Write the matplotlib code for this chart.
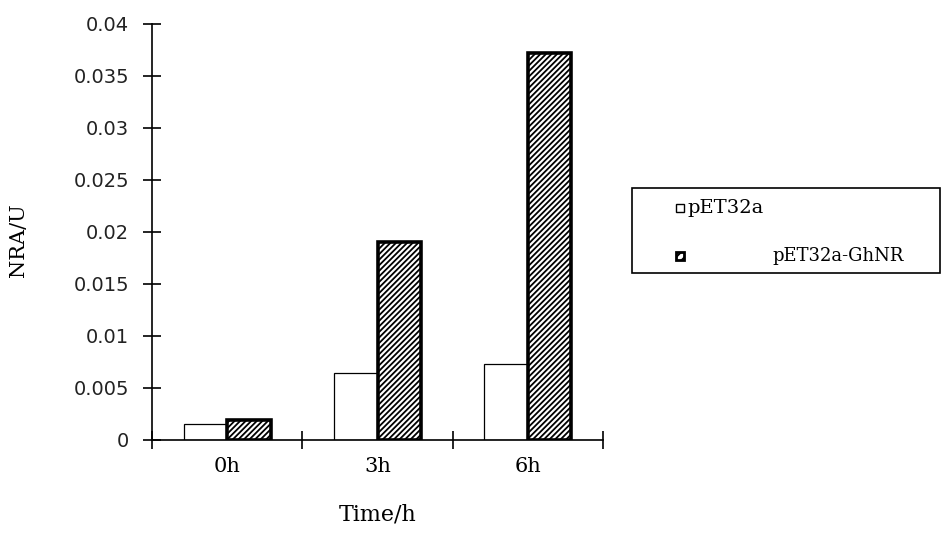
import numpy as np
import matplotlib
matplotlib.use("Agg")
import matplotlib.pyplot as plt
from matplotlib.patches import Rectangle

# 데이터
times = ["0h", "3h", "6h"]
pet32a = [0.0015, 0.0064, 0.0073]
pet32a_ghnr = [0.0019, 0.019, 0.0372]
y_ticks = [0, 0.005, 0.01, 0.015, 0.02, 0.025, 0.03, 0.035, 0.04]
y_tick_labels = ["0", "0.005", "0.01", "0.015", "0.02", "0.025", "0.03", "0.035", "0.04"]

plt.rcParams['font.family'] = ['DejaVu Serif']
plt.rcParams['hatch.linewidth'] = 1.3

fig = plt.figure(figsize=(9.43, 5.41), dpi=100)
ax = fig.add_axes([0.1612, 0.1867, 0.4783, 0.769])

x = np.arange(len(times))
w = 0.29
ax.bar(x - w / 2, pet32a, w, color="white", edgecolor="black", linewidth=0.9)
ax.bar(x + w / 2, pet32a_ghnr, w, color="white", edgecolor="black",
       linewidth=2.6, hatch="//////")

ax.set_xlim(-0.5, 2.5)
ax.set_ylim(0, 0.04)
ax.spines['top'].set_visible(False)
ax.spines['right'].set_visible(False)
ax.spines['left'].set_linewidth(1.2)
ax.spines['bottom'].set_linewidth(1.2)

ax.set_yticks(y_ticks)
ax.set_yticklabels(y_tick_labels, fontsize=14, family='DejaVu Sans',
                   color='#222222')
ax.tick_params(axis='y', direction='inout', length=13, width=1.2, pad=10)

# x축: 눈금은 구간 경계, 라벨은 가운데
ax.set_xticks([-0.5, 0.5, 1.5, 2.5])
ax.set_xticklabels([])
ax.set_xticks(x, minor=True)
ax.set_xticklabels(times, minor=True, fontsize=15)
ax.tick_params(axis='x', which='major', direction='inout', length=13, width=1.2)
ax.tick_params(axis='x', which='minor', length=0, pad=12)

ax.set_ylabel("NRA/U", fontsize=15)
ax.yaxis.set_label_coords(-0.275, 0.48)
ax.set_xlabel("Time/h", fontsize=16, labelpad=20)

# 범례 (수동)
fig.add_artist(Rectangle((632 / 943, 1 - 273 / 541), 308 / 943, 85 / 541,
                         transform=fig.transFigure, facecolor="white",
                         edgecolor="black", linewidth=1.2))
fig.add_artist(Rectangle((676 / 943, 1 - 212 / 541), 8 / 943, 8 / 541,
                         transform=fig.transFigure, facecolor="white",
                         edgecolor="black", linewidth=1.0))
fig.add_artist(Rectangle((676 / 943, 1 - 260 / 541), 8 / 943, 8 / 541,
                         transform=fig.transFigure, facecolor="white",
                         edgecolor="black", linewidth=2.0, hatch="////"))
fig.text(687 / 943, 1 - 208 / 541, "pET32a", fontsize=14, va="center")
fig.text(772 / 943, 1 - 256 / 541, "pET32a-GhNR", fontsize=13, va="center")

fig.savefig("out.png", dpi=100)
